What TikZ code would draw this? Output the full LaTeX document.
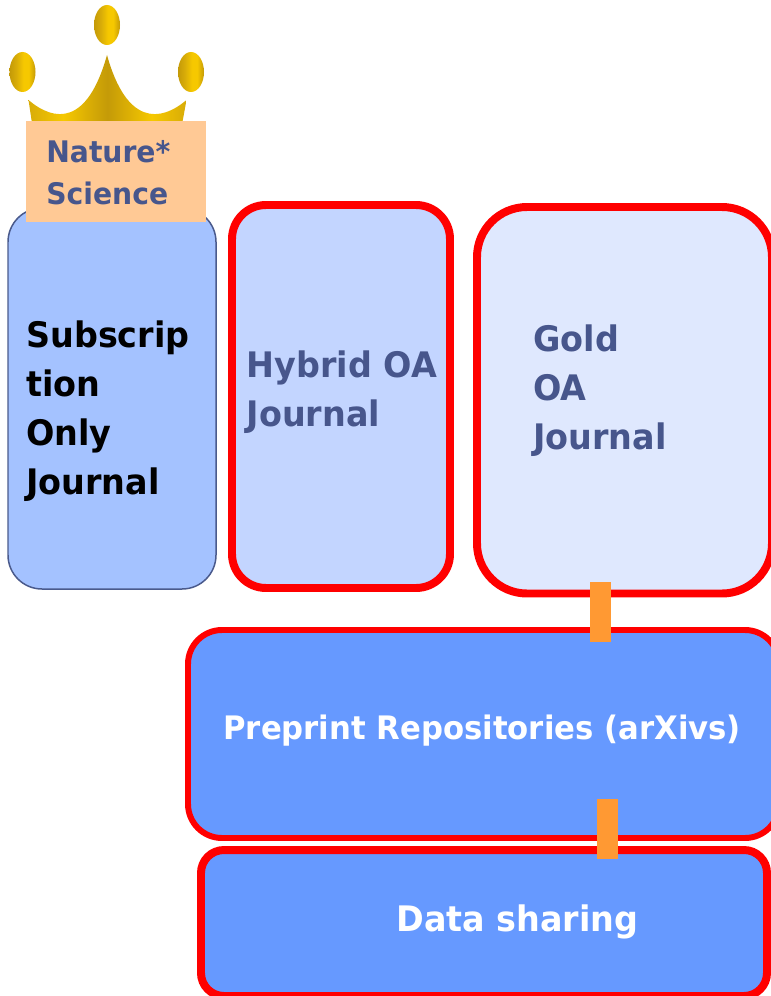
\documentclass[tikz,border=0pt]{standalone}
\usepackage{fontspec}
\setmainfont[FakeStretch=0.95]{DejaVu Sans}
\usetikzlibrary{shapes.geometric}
\definecolor{subfill}{HTML}{A4C2FF}
\definecolor{hybfill}{HTML}{C3D5FF}
\definecolor{goldfill}{HTML}{DFE8FE}
\definecolor{repofill}{HTML}{6699FF}
\definecolor{barcol}{HTML}{FF9933}
\definecolor{peach}{HTML}{FFC995}
\definecolor{slate}{HTML}{47568C}
\definecolor{subline}{HTML}{4A5A8C}
\definecolor{gemdark}{HTML}{C49A08}
\definecolor{gemmid}{HTML}{D8AC08}
\definecolor{gemlight}{HTML}{F6C800}
\pgfdeclarehorizontalshading{gemgold}{100bp}{color(0bp)=(gemdark);color(25bp)=(gemdark);color(38bp)=(gemmid);color(52bp)=(gemlight);color(62bp)=(gemlight);color(75bp)=(gemdark);color(100bp)=(gemdark)}
\pgfdeclarehorizontalshading{crowngold}{100bp}{color(0bp)=(gemmid);color(25bp)=(gemmid);color(36bp)=(gemlight);color(50bp)=(gemdark);color(64bp)=(gemlight);color(75bp)=(gemmid);color(100bp)=(gemmid)}
\tikzset{
	gem/.style={ellipse,shading=gemgold,minimum width=0.52cm,minimum height=0.8cm,inner sep=0},
	journal/.style={rounded corners=0.68cm,inner sep=0,outer sep=0},
	redbox/.style={journal,draw=red,line width=4.54pt},
	linkbar/.style={barcol,line width=0.42cm},
	lbl/.style={font=\fontsize{20}{27.9}\selectfont\bfseries,align=left,inner sep=0,anchor=west}
}
\begin{document}
\begin{tikzpicture}
	\useasboundingbox (0,0) rectangle (15.42,-19.92);
	%CROWN
	\node[gem] (gemleft) at (0.45,-1.44) {};
	\node[gem] (gemtop) at (2.14,-0.5) {};
	\node[gem] (gemright) at (3.82,-1.44) {};
	\shade[shading=crowngold] (0.57,-2) .. controls (1.1,-2.45) and (1.75,-2.5) .. (2.14,-1.1) .. controls (2.53,-2.5) and (3.2,-2.45) .. (3.73,-2) -- (3.62,-2.6) -- (0.66,-2.6) -- cycle;

	%JOURNAL BOXES
	\node[journal,draw=subline,line width=0.85pt,fill=subfill,minimum width=4.16cm,minimum height=7.62cm] (subscr) at (2.24,-7.97) {};
	\node[redbox,fill=hybfill,minimum width=4.36cm,minimum height=7.66cm] (hybrid) at (6.82,-7.93) {};
	\node[redbox,fill=goldfill,minimum width=5.9cm,minimum height=7.73cm,rounded corners=1cm] (goldoa) at (12.49,-8.005) {};
	\node[fill=peach,inner sep=0,minimum width=3.6cm,minimum height=2.02cm] (topjournals) at (2.32,-3.43) {};

	%LOWER BOXES
	\node[redbox,line width=3.4pt,fill=repofill,minimum width=11.82cm,minimum height=4.16cm] (preprint) at (9.67,-14.68) {};
	\node[redbox,fill=repofill,minimum width=11.32cm,minimum height=2.92cm,rounded corners=0.46cm] (datashare) at (9.68,-18.46) {};

	%LINKS
	\coordinate (goldlow) at (12.01,-11.64);
	\coordinate (repotop) at (12.01,-12.84);
	\coordinate (repolow) at (12.15,-15.98);
	\coordinate (datatop) at (12.15,-17.18);
	\draw[linkbar] (goldlow)--(repotop);
	\draw[linkbar] (repolow)--(datatop);

	%TEXT
	\node[lbl,slate,font=\fontsize{16.9}{23.8}\selectfont\bfseries] (toplabel) at (0.92,-3.45) {Nature*\\Science};
	\node[lbl] (sublabel) at (0.52,-8.23) {Subscrip\\tion\\Only\\Journal};
	\node[lbl,slate] (hyblabel) at (4.93,-7.84) {Hybrid OA\\Journal};
	\node[lbl,slate] (goldlabel) at (10.66,-7.82) {Gold\\OA\\Journal};
	\node[lbl,white,font=\fontsize{18.4}{27.8}\selectfont\bfseries] (repolabel) at (4.46,-14.62) {Preprint Repositories (arXivs)};
	\node[lbl,white] (datalabel) at (7.92,-18.44) {Data sharing};
\end{tikzpicture}
\end{document}
